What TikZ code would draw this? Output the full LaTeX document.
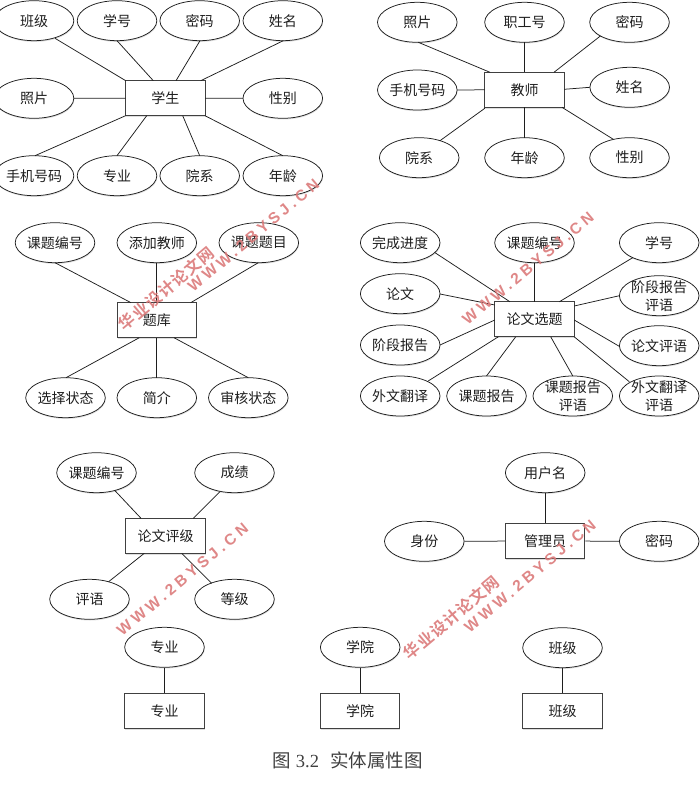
\documentclass[tikz,border=0pt]{standalone}
\usepackage{fontspec}
\setmainfont{Liberation Serif}
\newfontfamily\cjk{Noto Sans CJK SC}
\newfontfamily\wmcjk[LetterSpace=7]{Noto Sans CJK SC Bold}
\newfontfamily\wmlat[LetterSpace=25]{Liberation Sans Bold}
\usetikzlibrary{shapes.geometric,shadows}
\definecolor{inkc}{HTML}{1E1E1E}
\definecolor{wmc}{HTML}{DB7A7A}
\newcommand{\lk}[4]{\draw[link] ([shift={(#2)}]#1.center) -- ([shift={(#4)}]#3.center);}
\tikzset{
  softshadow/.style={drop shadow={shadow xshift=0.5pt,shadow yshift=-1.2pt,fill=black,opacity=.13}},
  attr/.style={ellipse,draw=inkc,line width=.75pt,fill=white,softshadow,minimum width=79.6pt,minimum height=40pt,inner sep=-30pt,align=center,text=inkc,font=\cjk\fontsize{14}{18}\selectfont},
  entity/.style={rectangle,draw=inkc!85,line width=.95pt,fill=white,softshadow,minimum width=79.4pt,minimum height=35pt,inner sep=0pt,text=inkc,font=\cjk\fontsize{14}{18}\selectfont},
  link/.style={draw=inkc,line width=.75pt},
  wmzh/.style={rotate=40,text=wmc,opacity=.9,inner sep=0pt,font=\wmcjk\fontsize{16}{18}\selectfont},
  wmen/.style={rotate=40,text=wmc,opacity=.9,inner sep=0pt,font=\wmlat\fontsize{15.5}{18}\selectfont},
  captionsty/.style={inner sep=0pt,text=black!75,font=\fontsize{18.5}{20}\selectfont}
}
\begin{document}
\begin{tikzpicture}[x=1pt,y=-1pt]
\useasboundingbox (0,0) rectangle (699,808);
% student
\node[entity] (s) at (165.3,98.2) {学生};
\node[attr] (ban) at (34,20.7) {班级};
\node[attr] (xh) at (117,20.7) {学号};
\node[attr] (mm) at (199.7,20.7) {密码};
\node[attr] (xm) at (282.8,20.7) {姓名};
\node[attr] (zp) at (34,98.3) {照片};
\node[attr] (xb) at (282.8,98.3) {性别};
\node[attr] (sj) at (34,175.7) {手机号码};
\node[attr] (zy) at (117,175.7) {专业};
\node[attr] (yx) at (199.7,175.7) {院系};
\node[attr] (nl) at (282.8,175.7) {年龄};
\lk{ban}{21,17.6}{s}{-39.6,-17.5}
\lk{xh}{0,20}{s}{-12,-17.5}
\lk{mm}{0.3,20}{s}{10.7,-17.5}
\lk{xm}{0.5,20}{s}{35.4,-17.5}
\lk{zp}{39.8,0}{s}{-39.7,0}
\lk{xb}{-39.8,0}{s}{39.7,0}
\lk{sj}{1,-20}{s}{-39.7,17.5}
\lk{zy}{0,-20}{s}{-18.6,17.5}
\lk{yx}{0,-20}{s}{17.4,17.5}
\lk{nl}{0,-20}{s}{39.7,17.5}
% teacher
\node[entity] (t) at (524.5,89.8) {教师};
\node[attr] (tz) at (417.3,22.3) {照片};
\node[attr] (tg) at (524.5,22.3) {职工号};
\node[attr] (tm) at (629.5,22.3) {密码};
\node[attr] (ts) at (417.3,90) {手机号码};
\node[attr] (tn) at (629.7,87.3) {姓名};
\node[attr] (ty) at (419.2,157.7) {院系};
\node[attr] (tl) at (524.5,157.7) {年龄};
\node[attr] (tx) at (629.5,157.7) {性别};
\lk{tz}{1,20}{t}{-34.5,-17.5}
\lk{tg}{0,20}{t}{0,-17.5}
\lk{tm}{-29,13.6}{t}{29.5,-17.5}
\lk{ts}{39.8,0}{t}{-39.7,0}
\lk{tn}{-39.8,0}{t}{39.7,-0.5}
\lk{ty}{20.5,-16.8}{t}{-39.7,18.5}
\lk{tl}{0,-20}{t}{0,17.5}
\lk{tx}{-16.2,-18.4}{t}{37.5,17.5}
% question bank
\node[entity] (k) at (156.8,320.2) {题库};
\node[attr] (k1) at (55,242.7) {课题编号};
\node[attr] (k2) at (156.8,242.7) {添加教师};
\node[attr] (k3) at (258.8,242.7) {课题题目};
\node[attr] (k4) at (65.5,397.7) {选择状态};
\node[attr] (k5) at (156.8,397.7) {简介};
\node[attr] (k6) at (248.3,397.7) {审核状态};
\lk{k1}{0,20}{k}{-25.8,-17.5}
\lk{k2}{0,20}{k}{0,-17.5}
\lk{k3}{-0.5,20}{k}{33.9,-17.5}
\lk{k4}{0.5,-20}{k}{-17.5,17.5}
\lk{k5}{0,-20}{k}{0,17.5}
\lk{k6}{0,-20}{k}{17.2,17.5}
% thesis topic
\node[entity] (p) at (534.5,319.3) {论文选题};
\node[attr] (p1) at (400.2,242.7) {完成进度};
\node[attr] (p2) at (534.5,242.7) {课题编号};
\node[attr] (p3) at (659.2,242.7) {学号};
\node[attr] (p4) at (400.2,293.7) {论文};
\node[attr] (p5) at (400.2,345) {阶段报告};
\node[attr] (p6) at (400.2,396) {外文翻译};
\node[attr] (p7) at (486.5,396) {课题报告};
\node[attr] (p8) at (572.8,396) {课题报告\\评语};
\node[attr] (p9) at (659.2,396) {外文翻译\\评语};
\node[attr] (p10) at (659.2,295.7) {阶段报告\\评语};
\node[attr] (p11) at (659.2,345.7) {论文评语};
\lk{p1}{34.8,10}{p}{-24.5,-17.5}
\lk{p2}{0,20}{p}{0,-17.5}
\lk{p3}{-26.5,15}{p}{24.8,-17.5}
\lk{p4}{39.8,0.3}{p}{-39.7,-14.3}
\lk{p5}{39.8,0}{p}{-39.7,0.7}
\lk{p6}{28,-15}{p}{-36.2,17.5}
\lk{p7}{0,-20}{p}{-18.8,17.5}
\lk{p8}{0,-20}{p}{16.2,17.5}
\lk{p9}{-29.9,-14.3}{p}{39.7,17.5}
\lk{p10}{-39.8,0}{p}{39.7,-13.3}
\lk{p11}{-39.8,0.7}{p}{39.7,0.7}
% grade
\node[entity] (g) at (165.5,535.8) {论文评级};
\node[attr] (g1) at (96.5,472.7) {课题编号};
\node[attr] (g2) at (234.5,472.7) {成绩};
\node[attr] (g3) at (89.5,599.3) {评语};
\node[attr] (g4) at (234.5,599.3) {等级};
\lk{g1}{18.5,18}{g}{-24.5,-17.5}
\lk{g2}{-14.5,19}{g}{27.8,-17.5}
\lk{g3}{19,-17.5}{g}{-21.2,17.5}
\lk{g4}{-22.8,-16}{g}{16.2,17.5}
% admin
\node[entity] (a) at (545.2,541) {管理员};
\node[attr] (a1) at (545.2,472.7) {用户名};
\node[attr] (a2) at (424.3,541.3) {身份};
\node[attr] (a3) at (659.2,541.3) {密码};
\draw[link] (a1) -- (a);
\draw[link] (a2) -- (a);
\draw[link] (a3) -- (a);
% singles
\node[entity] (zr) at (164.5,711) {专业};
\node[attr] (ze) at (164.5,647.3) {专业};
\draw[link] (ze) -- (zr);
\node[entity] (cr) at (360.2,711) {学院};
\node[attr] (ce) at (360.2,647.3) {学院};
\draw[link] (ce) -- (cr);
\node[entity] (br) at (562.5,711) {班级};
\node[attr] (be) at (562.5,647.7) {班级};
\draw[link] (be) -- (br);
% caption
\node[captionsty] (cap) at (347.5,760) {{\cjk 图}\hspace{5pt}3.2\hspace{11pt}{\cjk 实体属性图}};
% watermarks
\node[wmen] (w1) at (253.5,235.5) {WWW.2BYSJ.CN};
\node[wmzh] (w2) at (166.5,288.5) {华业设计论文网};
\node[wmen] (w3) at (528,268.5) {WWW.2BYSJ.CN};
\node[wmen] (w4) at (182.5,579.5) {WWW.2BYSJ.CN};
\node[wmen] (w5) at (530,576) {WWW.2BYSJ.CN};
\node[wmzh] (w6) at (451.5,618) {华业设计论文网};
\end{tikzpicture}
\end{document}
